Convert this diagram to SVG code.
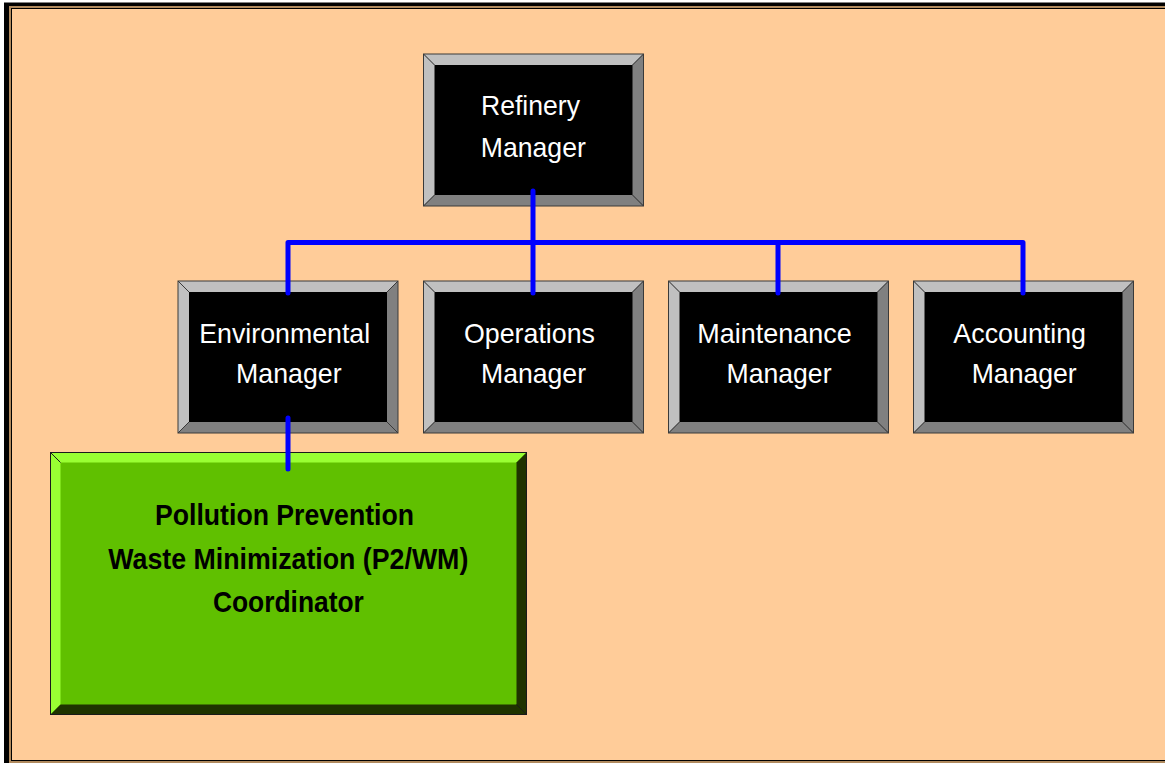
<svg xmlns="http://www.w3.org/2000/svg" width="1165" height="763" viewBox="0 0 1165 763">
<style>
.lt{fill:#C0C0C0}
.dk{fill:#808080}
.core{fill:#000000}
.edge{fill:none;stroke:#3a3a3a;stroke-width:1}
.glt{fill:#99FF33}
.gdk{fill:#1F3300}
.gcore{fill:#60C000}
.gedge{fill:none;stroke:#1a1a1a;stroke-width:1}
.wt{font-family:"Liberation Sans",Arial,Helvetica,sans-serif;font-size:28.5px;fill:#FFFFFF;text-anchor:middle}
.bt{font-family:"Liberation Sans",Arial,Helvetica,sans-serif;font-size:30px;font-weight:bold;fill:#000000;text-anchor:middle}
.conn{fill:none;stroke:#0000FF;stroke-width:5;stroke-linecap:round;stroke-linejoin:round}
</style>
<rect x="0" y="0" width="1165" height="763" fill="#FFFFFF"/>
<g id="frame">
<rect x="4" y="2" width="1170" height="1" fill="#808080"/>
<rect x="4" y="3" width="1170" height="770" fill="#000000"/>
<rect x="9" y="6" width="1170" height="770" fill="#B08A5E"/>
<rect x="11.5" y="8.5" width="1170" height="752" fill="#FFCC99" stroke="#000000" stroke-width="1"/>
</g>
<g id="node-refinery">
<rect class="core" x="423.5" y="54" width="220" height="152"/>
<polygon class="lt" points="423.5,54 643.5,54 632.5,65 434.5,65"/>
<polygon class="lt" points="423.5,54 434.5,65 434.5,195 423.5,206"/>
<polygon class="dk" points="643.5,54 643.5,206 632.5,195 632.5,65"/>
<polygon class="dk" points="423.5,206 643.5,206 632.5,195 434.5,195"/>
<rect class="edge" x="423.5" y="54" width="220" height="152"/>
<path class="edge" d="M423.5 54 L434.5 65 M643.5 54 L632.5 65 M423.5 206 L434.5 195 M643.5 206 L632.5 195"/>
<text class="wt" x="530.5" y="115" textLength="99" lengthAdjust="spacingAndGlyphs">Refinery</text>
<text class="wt" x="533.3" y="157" textLength="105" lengthAdjust="spacingAndGlyphs">Manager</text>
</g>
<g id="node-environmental">
<rect class="core" x="178" y="281" width="220" height="152"/>
<polygon class="lt" points="178,281 398,281 387,292 189,292"/>
<polygon class="lt" points="178,281 189,292 189,422 178,433"/>
<polygon class="dk" points="398,281 398,433 387,422 387,292"/>
<polygon class="dk" points="178,433 398,433 387,422 189,422"/>
<rect class="edge" x="178" y="281" width="220" height="152"/>
<path class="edge" d="M178 281 L189 292 M398 281 L387 292 M178 433 L189 422 M398 433 L387 422"/>
<text class="wt" x="284.7" y="343" textLength="171" lengthAdjust="spacingAndGlyphs">Environmental</text>
<text class="wt" x="288.8" y="383" textLength="105.5" lengthAdjust="spacingAndGlyphs">Manager</text>
</g>
<g id="node-operations">
<rect class="core" x="423.5" y="281" width="220" height="152"/>
<polygon class="lt" points="423.5,281 643.5,281 632.5,292 434.5,292"/>
<polygon class="lt" points="423.5,281 434.5,292 434.5,422 423.5,433"/>
<polygon class="dk" points="643.5,281 643.5,433 632.5,422 632.5,292"/>
<polygon class="dk" points="423.5,433 643.5,433 632.5,422 434.5,422"/>
<rect class="edge" x="423.5" y="281" width="220" height="152"/>
<path class="edge" d="M423.5 281 L434.5 292 M643.5 281 L632.5 292 M423.5 433 L434.5 422 M643.5 433 L632.5 422"/>
<text class="wt" x="529.5" y="343" textLength="131" lengthAdjust="spacingAndGlyphs">Operations</text>
<text class="wt" x="533.5" y="383" textLength="105" lengthAdjust="spacingAndGlyphs">Manager</text>
</g>
<g id="node-maintenance">
<rect class="core" x="668.5" y="281" width="220" height="152"/>
<polygon class="lt" points="668.5,281 888.5,281 877.5,292 679.5,292"/>
<polygon class="lt" points="668.5,281 679.5,292 679.5,422 668.5,433"/>
<polygon class="dk" points="888.5,281 888.5,433 877.5,422 877.5,292"/>
<polygon class="dk" points="668.5,433 888.5,433 877.5,422 679.5,422"/>
<rect class="edge" x="668.5" y="281" width="220" height="152"/>
<path class="edge" d="M668.5 281 L679.5 292 M888.5 281 L877.5 292 M668.5 433 L679.5 422 M888.5 433 L877.5 422"/>
<text class="wt" x="774.5" y="343" textLength="154.4" lengthAdjust="spacingAndGlyphs">Maintenance</text>
<text class="wt" x="779" y="383" textLength="105" lengthAdjust="spacingAndGlyphs">Manager</text>
</g>
<g id="node-accounting">
<rect class="core" x="913.5" y="281" width="220" height="152"/>
<polygon class="lt" points="913.5,281 1133.5,281 1122.5,292 924.5,292"/>
<polygon class="lt" points="913.5,281 924.5,292 924.5,422 913.5,433"/>
<polygon class="dk" points="1133.5,281 1133.5,433 1122.5,422 1122.5,292"/>
<polygon class="dk" points="913.5,433 1133.5,433 1122.5,422 924.5,422"/>
<rect class="edge" x="913.5" y="281" width="220" height="152"/>
<path class="edge" d="M913.5 281 L924.5 292 M1133.5 281 L1122.5 292 M913.5 433 L924.5 422 M1133.5 433 L1122.5 422"/>
<text class="wt" x="1019.7" y="343" textLength="132.7" lengthAdjust="spacingAndGlyphs">Accounting</text>
<text class="wt" x="1024.2" y="383" textLength="105" lengthAdjust="spacingAndGlyphs">Manager</text>
</g>
<g id="node-p2wm">
<rect class="gcore" x="50.5" y="452.5" width="476" height="262"/>
<polygon class="glt" points="50.5,452.5 526.5,452.5 516.5,462.5 60.5,462.5"/>
<polygon class="glt" points="50.5,452.5 60.5,462.5 60.5,704.5 50.5,714.5"/>
<polygon class="gdk" points="526.5,452.5 526.5,714.5 516.5,704.5 516.5,462.5"/>
<polygon class="gdk" points="50.5,714.5 526.5,714.5 516.5,704.5 60.5,704.5"/>
<rect class="gedge" x="50.5" y="452.5" width="476" height="262"/>
<path class="gedge" d="M50.5 452.5 L60.5 462.5 M526.5 714.5 L516.5 704.5"/>
<text class="bt" x="284.5" y="525" textLength="259" lengthAdjust="spacingAndGlyphs">Pollution Prevention</text>
<text class="bt" x="288.3" y="568.5" textLength="360" lengthAdjust="spacingAndGlyphs">Waste Minimization (P2/WM)</text>
<text class="bt" x="288.4" y="612" textLength="151" lengthAdjust="spacingAndGlyphs">Coordinator</text>
</g>
<g id="connectors">
<path class="conn" d="M533 191 V242.5"/>
<path class="conn" d="M288 293 V242.5 H1023 V293"/>
<path class="conn" d="M533 242.5 V293"/>
<path class="conn" d="M778 242.5 V293"/>
<path class="conn" d="M288 418 V469"/>
</g>
</svg>
